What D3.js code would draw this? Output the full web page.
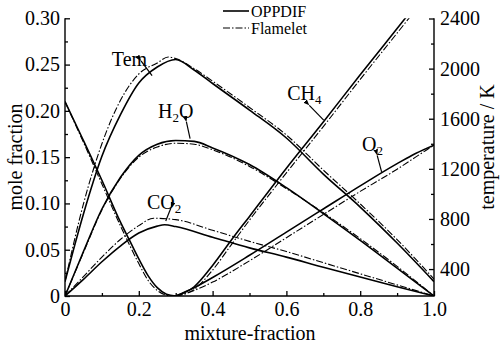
<!DOCTYPE html>
<html>
<head>
<meta charset="utf-8">
<script src="https://cdn.jsdelivr.net/npm/d3@7"></script>
<style>
  body { margin: 0; background: #fff; }
  svg { display: block; font-family: "Liberation Serif", "DejaVu Serif", serif; }
  .axis line { stroke: #000; stroke-width: 1.3; }
  .axis .domain { display: none; }
  .axis text { font-size: 20px; fill: #000; font-family: "Liberation Serif", serif; }
  .frame { stroke: #000; stroke-width: 1.4; }
  .solid { fill: none; stroke: #000; stroke-width: 1.6; }
  .dash { fill: none; stroke: #000; stroke-width: 1.1; stroke-dasharray: 7,2,1.5,2; }
</style>
</head>
<body>
<svg id="chart"></svg>
<script>
// axis ticks
var xTicks = [0, 0.2, 0.4, 0.6, 0.8, 1.0];
var xMinor = [0.1, 0.3, 0.5, 0.7, 0.9];
var yTicks = [0, 0.05, 0.10, 0.15, 0.20, 0.25, 0.30];
var yMinor = [0.025, 0.075, 0.125, 0.175, 0.225, 0.275];
var tTicks = [400, 800, 1200, 1600, 2000, 2400];
var tMinor = [600, 1000, 1400, 1800, 2200];

// temperature (right axis, K)
var temOppX = [0, 0.05, 0.1, 0.15, 0.2, 0.25, 0.3, 0.35, 0.4, 0.5, 0.6, 0.7, 0.8, 0.9, 1.0];
var temOpp  = [300, 840, 1300, 1630, 1885, 2013, 2073, 1989, 1881, 1669, 1446, 1158, 895, 608, 300];
var temFlmX = [0, 0.05, 0.1, 0.15, 0.2, 0.25, 0.28, 0.3, 0.35, 0.4, 0.5, 0.6, 0.7, 0.8, 0.9, 1.0];
var temFlm  = [300, 920, 1400, 1745, 1957, 2045, 2093, 2080, 2000, 1900, 1690, 1470, 1190, 920, 635, 320];

// H2O
var h2oX   = [0, 0.05, 0.1, 0.15, 0.2, 0.25, 0.3, 0.35, 0.4, 0.5, 0.6, 0.7, 0.8, 0.9, 1.0];
var h2oOpp = [0, 0.048, 0.094, 0.128, 0.152, 0.164, 0.168, 0.167, 0.160, 0.142, 0.117, 0.089, 0.060, 0.030, 0];
var h2oFlm = [0, 0.047, 0.093, 0.127, 0.150, 0.161, 0.165, 0.164, 0.158, 0.140, 0.116, 0.090, 0.062, 0.032, 0];

// CO2
var co2OppX = [0, 0.05, 0.1, 0.15, 0.2, 0.25, 0.27, 0.3, 0.4, 0.5, 0.6, 0.7, 0.8, 0.9, 1.0];
var co2Opp  = [0, 0.018, 0.037, 0.054, 0.068, 0.0755, 0.077, 0.075, 0.0635, 0.052, 0.042, 0.031, 0.0205, 0.010, 0];
var co2FlmX = [0, 0.05, 0.1, 0.15, 0.2, 0.24, 0.3, 0.4, 0.5, 0.6, 0.7, 0.8, 0.9, 1.0];
var co2Flm  = [0, 0.021, 0.042, 0.061, 0.076, 0.084, 0.0825, 0.071, 0.059, 0.048, 0.036, 0.024, 0.012, 0];

// O2 falling from the air side
var o2aX   = [0, 0.05, 0.1, 0.15, 0.175, 0.2, 0.225, 0.25, 0.275, 0.3];
var o2aOpp = [0.21, 0.168, 0.125, 0.080, 0.060, 0.040, 0.022, 0.009, 0.002, 0];
var o2aFlm = [0.21, 0.166, 0.121, 0.076, 0.055, 0.035, 0.017, 0.006, 0.001, 0];

// CH4
var ch4X   = [0.3, 0.35, 0.4, 0.45, 0.5, 0.6, 0.7, 0.8, 0.9, 1.0];
var ch4Opp = [0, 0.010, 0.033, 0.060, 0.086, 0.138, 0.188, 0.239, 0.289, 0.339];
var ch4Flm = [0, 0.007, 0.028, 0.055, 0.082, 0.133, 0.183, 0.234, 0.284, 0.334];

// O2 (labelled curve)
var o2X   = [0.3, 0.35, 0.4, 0.5, 0.6, 0.7, 0.8, 0.9, 0.95, 1.0];
var o2Opp = [0, 0.009, 0.020, 0.044, 0.069, 0.094, 0.119, 0.143, 0.154, 0.163];
var o2Flm = [0, 0.006, 0.015, 0.038, 0.063, 0.088, 0.113, 0.137, 0.150, 0.163];

var width = 500, height = 344,
    padL = 65, padR = 434, padT = 18.3, padB = 296;

var x = d3.scaleLinear().domain([0, 1]).range([padL, padR]),
    y = d3.scaleLinear().domain([0, 0.30]).range([padB, padT]),
    yT = d3.scaleLinear().domain([185, 2400]).range([padB, 18.5]);

var svg = d3.select("#chart").attr("width", width).attr("height", height);
var defs = svg.append("defs");

defs.append("clipPath").attr("id", "plot")
  .append("rect").attr("x", padL).attr("y", padT)
  .attr("width", padR - padL).attr("height", padB - padT);

// small filled arrowhead, tip sits on the line end
defs.append("marker")
  .attr("id", "head").attr("viewBox", "0 0 10 8")
  .attr("refX", 0).attr("refY", 4)
  .attr("markerWidth", 6).attr("markerHeight", 5)
  .attr("markerUnits", "userSpaceOnUse")
  .attr("orient", "auto-start-reverse")
  .append("path").attr("d", "M0,4L10,0L10,8Z").attr("fill", "#000");

function zip(xs, ys) {
  return xs.map(function(v, i) { return [v, ys[i]]; });
}

var lineL = d3.line().curve(d3.curveMonotoneX)
  .x(function(d) { return x(d[0]); })
  .y(function(d) { return y(d[1]); });
var lineT = d3.line().curve(d3.curveMonotoneX)
  .x(function(d) { return x(d[0]); })
  .y(function(d) { return yT(d[1]); });

var curves = [
  { d: zip(o2aX, o2aOpp), l: lineL, c: "solid" },
  { d: zip(o2aX, o2aFlm), l: lineL, c: "dash" },
  { d: zip(h2oX, h2oOpp), l: lineL, c: "solid" },
  { d: zip(h2oX, h2oFlm), l: lineL, c: "dash" },
  { d: zip(co2OppX, co2Opp), l: lineL, c: "solid" },
  { d: zip(co2FlmX, co2Flm), l: lineL, c: "dash" },
  { d: zip(ch4X, ch4Opp), l: lineL, c: "solid" },
  { d: zip(ch4X, ch4Flm), l: lineL, c: "dash" },
  { d: zip(o2X, o2Opp), l: lineL, c: "solid" },
  { d: zip(o2X, o2Flm), l: lineL, c: "dash" },
  { d: zip(temOppX, temOpp), l: lineT, c: "solid" },
  { d: zip(temFlmX, temFlm), l: lineT, c: "dash" }
];

svg.append("g").attr("clip-path", "url(#plot)")
  .selectAll("path").data(curves).enter()
  .append("path")
  .attr("class", function(d) { return d.c; })
  .attr("d", function(d) { return d.l(d.d); });

// axes
function fmt0(f) { return function(d) { return d === 0 ? "0" : d3.format(f)(d); }; }

svg.append("g").attr("class", "axis")
  .attr("transform", "translate(0," + padB + ")")
  .call(d3.axisBottom(x).tickValues(xTicks).tickFormat(fmt0(".1f"))
    .tickSizeInner(-5).tickSizeOuter(0).tickPadding(6));
svg.append("g").attr("class", "axis")
  .attr("transform", "translate(0," + padB + ")")
  .call(d3.axisBottom(x).tickValues(xMinor).tickFormat("")
    .tickSizeInner(-3).tickSizeOuter(0));

svg.append("g").attr("class", "axis")
  .attr("transform", "translate(" + padL + ",0)")
  .call(d3.axisLeft(y).tickValues(yTicks).tickFormat(fmt0(".2f"))
    .tickSizeInner(-5).tickSizeOuter(0).tickPadding(5));
svg.append("g").attr("class", "axis")
  .attr("transform", "translate(" + padL + ",0)")
  .call(d3.axisLeft(y).tickValues(yMinor).tickFormat("")
    .tickSizeInner(-3).tickSizeOuter(0));

svg.append("g").attr("class", "axis")
  .attr("transform", "translate(" + padR + ",0)")
  .call(d3.axisRight(yT).tickValues(tTicks).tickFormat(d3.format("d"))
    .tickSizeInner(-5).tickSizeOuter(0).tickPadding(6));
svg.append("g").attr("class", "axis")
  .attr("transform", "translate(" + padR + ",0)")
  .call(d3.axisRight(yT).tickValues(tMinor).tickFormat("")
    .tickSizeInner(-3).tickSizeOuter(0));

// axis lines: left, right, bottom (no top line)
svg.append("path").attr("class", "frame").attr("fill", "none")
  .attr("d", "M" + padL + "," + padT + "V" + padB + "H" + padR + "V" + padT);

// axis titles
svg.append("text").attr("transform", "translate(22,157) rotate(-90)")
  .attr("text-anchor", "middle").attr("font-size", 20).text("mole fraction");
svg.append("text").attr("transform", "translate(494,147) rotate(-90)")
  .attr("text-anchor", "middle").attr("font-size", 20).text("temperature / K");
svg.append("text").attr("x", 250).attr("y", 340)
  .attr("text-anchor", "middle").attr("font-size", 20).text("mixture-fraction");

// legend
var legend = [{ name: "OPPDIF", c: "solid" }, { name: "Flamelet", c: "dash" }];
var lg = svg.append("g").attr("transform", "translate(223,11)");
lg.selectAll("line").data(legend).enter().append("line")
  .attr("class", function(d) { return d.c; })
  .attr("x1", 0).attr("x2", 26)
  .attr("y1", function(d, i) { return i * 17; })
  .attr("y2", function(d, i) { return i * 17; });
lg.selectAll("text").data(legend).enter().append("text")
  .attr("x", 28).attr("y", function(d, i) { return i * 17 + 6; })
  .attr("font-size", 16).text(function(d) { return d.name; });

// labels with arrows, placed in mole-fraction units
var notes = [
  { t: "Tem", tx: 0.127, ty: 0.248, hx: 0.206, hy: 0.254, ex: 0.236, ey: 0.238 },
  { t: "H", s: "2", r: "O", tx: 0.252, ty: 0.192, hx: 0.329, hy: 0.188, ex: 0.339, ey: 0.170 },
  { t: "CO", s: "2", tx: 0.222, ty: 0.094, hx: 0.287, hy: 0.095, ex: 0.273, ey: 0.081 },
  { t: "CH", s: "4", tx: 0.602, ty: 0.2115, hx: 0.662, hy: 0.206, ex: 0.701, ey: 0.190 },
  { t: "O", s: "2", tx: 0.805, ty: 0.157, hx: 0.846, hy: 0.152, ex: 0.858, ey: 0.134 }
];

notes.forEach(function(n) {
  var tx = svg.append("text").attr("x", x(n.tx)).attr("y", y(n.ty)).attr("font-size", 20);
  tx.append("tspan").text(n.t);
  if (n.s) tx.append("tspan").attr("dy", 4).attr("font-size", 13).text(n.s);
  if (n.r) tx.append("tspan").attr("dy", -4).text(n.r);
  svg.append("line")
    .attr("x1", x(n.hx)).attr("y1", y(n.hy))
    .attr("x2", x(n.ex)).attr("y2", y(n.ey))
    .attr("stroke", "#000").attr("stroke-width", 1.2)
    .attr("marker-start", "url(#head)");
});
</script>
</body>
</html>
